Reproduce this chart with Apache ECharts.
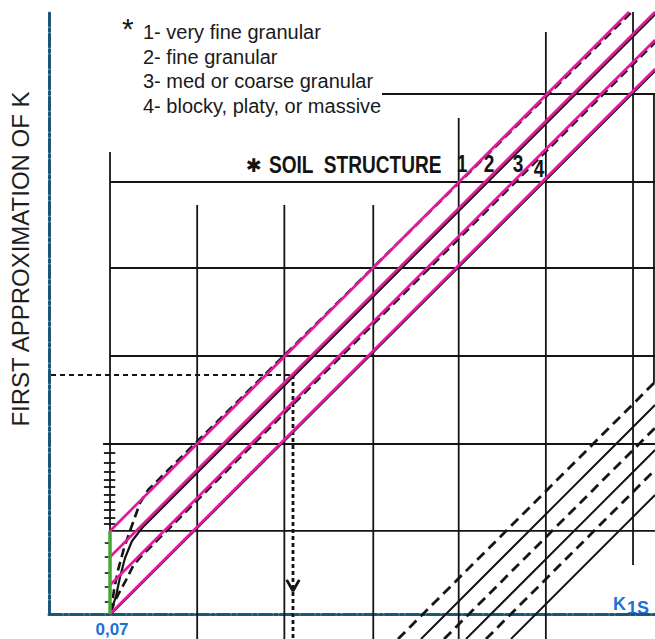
<!DOCTYPE html>
<html>
<head>
<meta charset="utf-8">
<script src="https://cdn.jsdelivr.net/npm/echarts@6/dist/echarts.min.js"></script>
<style>
  html, body { margin: 0; padding: 0; background: #ffffff; }
  #chart { width: 655px; height: 639px; }
</style>
</head>
<body>
<div id="chart"></div>
<script>
// Axis ranges: x in nomograph grid columns (0 = the 0,07 line), y in grid rows above the K1S axis
const xRange = [-0.7, 6.252];
const yRange = [0, 6.888];

// Vertical grid lines: [x, yBottom, yTop]
const gridColumns = [
  [0, 0, 5.286],
  [1, -0.286, 4.68],
  [2, -0.286, 4.68],
  [3.02, -0.286, 4.68],
  [4, -0.286, 5.675],
  [5, -0.286, 6.659],
  [6, 0.561, 6.888],
  [6.24, 2.64, 5.95]
];

// Horizontal grid lines: [y, xLeft, xRight]
const gridRows = [
  [0.95, 0, 6.252],
  [1.945, -0.08, 6.252],
  [2.952, 0, 6.252],
  [3.959, 0, 6.252],
  [4.943, 0, 6.252],
  [5.95, 3.12, 6.252]
];

// Scale ticks on the 0,07 line
const scaleTicksMajor = [1.842, 1.728, 1.625, 1.533, 1.453, 1.362, 1.281, 1.19, 1.098, 1.03];
const scaleTicksMinor = [0.812, 0.652, 0.469, 0.309, 0.137];

// Soil structure classes 1-4: start on the 0,07 line and end point
const structureStart = [0.95, 0.652, 0.332, 0];
const structureEnd = [[5.954, 6.888], [6.252, 6.888], [6.252, 6.568], [6.252, 6.236]];
const structureNames = ['1', '2', '3', '4'];

// Printed structure curves under the coloured lines (1, 3 dashed; 2, 4 solid)
const printedCurve1 = [[0.011, 0.023], [0.046, 0.275], [0.092, 0.503], [0.161, 0.755], [0.241, 0.984], [0.344, 1.27], [0.436, 1.419], [5.985, 6.888]];
const printedCurve2 = [[0.011, 0.023], [0.069, 0.206], [0.115, 0.423], [0.172, 0.641], [0.252, 0.835], [0.367, 0.984], [6.252, 6.86]];
const printedCurve3 = [[0.011, 0.023], [0.046, 0.126], [0.103, 0.24], [0.184, 0.389], [0.264, 0.549], [0.356, 0.658], [6.252, 6.54]];
const printedCurve4 = [[0.011, 0], [6.252, 6.213]];

// Lower-right family of lines: start (below the axis) and end (right edge)
const lowerStart = [[3.304, -0.286], [3.568, -0.286], [3.832, -0.286], [4.084, -0.286], [4.313, -0.286], [4.6, -0.286]];
const lowerEnd = [[6.252, 2.654], [6.252, 2.391], [6.252, 2.128], [6.252, 1.876], [6.252, 1.648], [6.252, 1.362]];
const lowerDashed = [true, false, true, false, true, false];

// Reading path: across from the K axis, then down to K1S
const readLevel = 2.735;
const readColumn = 2.099;
const readArrow = [[2.027, 0.39], [2.099, 0.263], [2.171, 0.39]];

// Range on the 0,07 line
const rangeSegment = [[0, 0], [0, 0.95]];

const INK = '#141414';
const MAGENTA = '#e3199c';
const GREEN = '#46a832';
const AXIS_BLUE = '#1b5577';
const LABEL_BLUE = '#1f6fd6';
const FONT = "'Liberation Sans', Arial, sans-serif";

const series = [];
function addLine(points, style, z) {
  series.push({
    type: 'line',
    data: points,
    symbol: 'none',
    clip: false,
    silent: true,
    animation: false,
    z: z,
    lineStyle: style
  });
}

// grid
gridColumns.forEach(c => addLine([[c[0], c[1]], [c[0], c[2]]], { color: INK, width: 1.8 }, 1));
gridRows.forEach(r => addLine([[r[1], r[0]], [r[2], r[0]]], { color: INK, width: 1.8 }, 1));
scaleTicksMajor.forEach(t => addLine([[-0.07, t], [0.06, t]], { color: INK, width: 1.8 }, 1));
scaleTicksMinor.forEach(t => addLine([[-0.06, t], [0, t]], { color: INK, width: 1.6 }, 1));

// printed curves
const dashed = { color: INK, width: 2.6, type: [9, 5] };
const solid = { color: INK, width: 2.2 };
addLine(printedCurve1, dashed, 2);
addLine(printedCurve2, solid, 2);
addLine(printedCurve3, dashed, 2);
addLine(printedCurve4, solid, 2);

// lower-right family
lowerStart.forEach((s, i) => addLine([s, lowerEnd[i]], lowerDashed[i] ? { color: INK, width: 2.8, type: [10, 6] } : { color: INK, width: 2 }, 2));

// reading path
addLine([[-0.78, readLevel], [readColumn, readLevel]], { color: INK, width: 2, type: [5, 4] }, 3);
addLine([[readColumn, readLevel], [readColumn, -0.286]], { color: INK, width: 2.8, type: [4, 3] }, 3);
addLine(readArrow, { color: INK, width: 2.8 }, 3);

// soil structure lines
structureStart.forEach((y0, i) => addLine([[0, y0], structureEnd[i]], { color: MAGENTA, width: 2.7 }, 4));

// range on the 0,07 line
addLine(rangeSegment, { color: GREEN, width: 3.5 }, 5);

const axisLineStyle = { color: AXIS_BLUE, width: 3, type: [13, 2.5, 3, 2.5] };

const textItems = [
  { x: 122, y: 28, text: '*', font: 'normal 30px ' + FONT, color: '#1a1a1a' },
  { x: 143, y: 32, text: '1- very fine granular', font: 'normal 20px ' + FONT, color: '#1a1a1a' },
  { x: 143, y: 57, text: '2- fine granular', font: 'normal 20px ' + FONT, color: '#1a1a1a' },
  { x: 143, y: 81, text: '3- med or coarse granular', font: 'normal 20px ' + FONT, color: '#1a1a1a' },
  { x: 143, y: 106, text: '4- blocky, platy, or massive', font: 'normal 20px ' + FONT, color: '#1a1a1a' }
];

const structureLabelPos = [[462, 164], [489, 164], [518, 164], [539, 169]];

const graphic = textItems.map(t => ({
  type: 'text', x: t.x, y: t.y, silent: true,
  style: { text: t.text, font: t.font, fill: t.color, textAlign: 'left', textVerticalAlign: 'middle' }
}));
graphic.push({
  type: 'text', x: 246, y: 165, silent: true,
  style: { text: '\u2731', font: "bold 19px 'DejaVu Sans', sans-serif", fill: INK, textAlign: 'left', textVerticalAlign: 'middle' }
});
graphic.push({
  type: 'text', x: 269, y: 165, scaleX: 0.83, silent: true,
  style: { text: 'SOIL  STRUCTURE', font: 'bold 23px ' + FONT, fill: INK, textAlign: 'left', textVerticalAlign: 'middle' }
});
structureNames.forEach((n, i) => graphic.push({
  type: 'text', x: structureLabelPos[i][0], y: structureLabelPos[i][1], scaleX: 0.83, silent: true,
  style: { text: n, font: 'bold 23px ' + FONT, fill: INK, textAlign: 'center', textVerticalAlign: 'middle' }
}));
graphic.push({
  type: 'text', x: 20, y: 259, rotation: Math.PI / 2, silent: true,
  style: { text: 'FIRST APPROXIMATION OF K', font: 'normal 24px ' + FONT, fill: '#1e1e1e', textAlign: 'center', textVerticalAlign: 'middle' }
});
graphic.push({
  type: 'text', x: 112, y: 629, silent: true,
  style: { text: '0,07', font: 'bold 17px ' + FONT, fill: LABEL_BLUE, textAlign: 'center', textVerticalAlign: 'middle' }
});
graphic.push({
  type: 'text', x: 613, y: 604, silent: true,
  style: { text: 'K', font: 'bold 18px ' + FONT, fill: LABEL_BLUE, textAlign: 'left', textVerticalAlign: 'middle' }
});
graphic.push({
  type: 'text', x: 627, y: 608, silent: true,
  style: { text: '1S', font: 'bold 18px ' + FONT, fill: LABEL_BLUE, textAlign: 'left', textVerticalAlign: 'middle' }
});

const chart = echarts.init(document.getElementById('chart'), null, { renderer: 'svg' });
chart.setOption({
  animation: false,
  backgroundColor: '#ffffff',
  grid: { left: 49, right: 0, top: 12, bottom: 25 },
  xAxis: {
    type: 'value', min: xRange[0], max: xRange[1],
    axisLine: { show: true, onZero: false, lineStyle: axisLineStyle },
    axisTick: { show: false }, axisLabel: { show: false }, splitLine: { show: false }
  },
  yAxis: {
    type: 'value', min: yRange[0], max: yRange[1],
    axisLine: { show: true, onZero: false, lineStyle: axisLineStyle },
    axisTick: { show: false }, axisLabel: { show: false }, splitLine: { show: false }
  },
  series: series,
  graphic: graphic
});
</script>
</body>
</html>
